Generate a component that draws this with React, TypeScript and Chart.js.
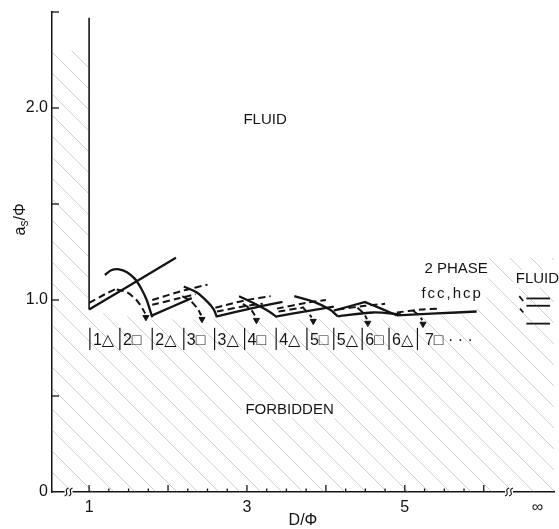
import React, { useEffect, useRef } from 'react';
import { Chart, registerables } from 'chart.js';

Chart.register(...registerables);

type P = [number, number];

// ---- axes ----
const X_MIN = 0.53;
const X_MAX = 6.89;
const Y_MIN = 0;
const Y_MAX = 2.5;
const X_TICKS = [1, 3, 5, 6.68];
const X_TICK_LABELS = ['1', '3', '5', '∞'];
const X_TICK_MARKS = [1, 1.25, 1.5, 1.75, 2, 2.25, 2.5, 2.75, 3, 3.25, 3.5, 3.75, 4, 4.25, 4.5, 4.75, 5, 5.25, 5.5, 5.75, 6];
const X_MAJOR_MARKS = [1, 2, 3, 4, 5, 6];
const X_BREAKS = [0.74, 6.32];
const Y_TICKS = [0, 1, 2];
const Y_TICK_LABELS = ['0', '1.0', '2.0'];
const Y_TICK_MARKS = [0.5, 1, 1.5, 2, 2.5];

// ---- curves (D/Φ, a_s/Φ) ----
const WALL: P[] = [[1.0, 0.95], [1.0, 2.47]];

const SOLID_LINES: P[][] = [
  [[1.0, 0.95], [2.1, 1.22]],
  [[1.2, 1.13], [1.28, 1.155], [1.38, 1.16], [1.48, 1.145], [1.58, 1.11], [1.66, 1.06], [1.73, 1.0], [1.77, 0.95], [1.8, 0.91]],
  [[1.8, 0.92], [2.3, 1.01]],
  [[2.2, 1.07], [2.36, 1.04], [2.5, 0.99], [2.58, 0.95], [2.62, 0.91]],
  [[2.62, 0.915], [3.1, 0.96], [3.45, 0.99]],
  [[2.9, 1.02], [3.1, 0.98], [3.28, 0.94], [3.38, 0.91]],
  [[3.38, 0.915], [3.8, 0.945], [4.1, 0.965]],
  [[3.6, 1.02], [3.85, 0.99], [4.05, 0.95], [4.15, 0.915]],
  [[4.1, 0.945], [4.5, 0.99]],
  [[4.49, 0.99], [4.7, 0.955], [4.9, 0.92]],
  [[4.15, 0.915], [4.6, 0.935], [4.95, 0.925]],
  [[4.9, 0.92], [5.4, 0.93], [5.91, 0.94]],
];

const DASHED_LINES: P[][] = [
  [[1.0, 0.985], [1.2, 1.03], [1.35, 1.06]],
  [[1.35, 1.055], [1.48, 1.04], [1.6, 1.0], [1.67, 0.96], [1.71, 0.93]],
  [[1.8, 1.0], [2.2, 1.05], [2.5, 1.08]],
  [[1.8, 0.975], [2.15, 1.01], [2.35, 1.03]],
  [[2.18, 1.02], [2.3, 0.99], [2.38, 0.95], [2.42, 0.92]],
  [[2.6, 0.96], [3.0, 1.0], [3.3, 1.02]],
  [[2.62, 0.94], [3.0, 0.97], [3.2, 0.98]],
  [[2.95, 0.98], [3.05, 0.95], [3.1, 0.92]],
  [[3.38, 0.955], [3.75, 0.985], [4.0, 1.0]],
  [[3.4, 0.94], [3.7, 0.96]],
  [[3.7, 0.965], [3.78, 0.93], [3.82, 0.91]],
  [[4.15, 0.95], [4.5, 0.97], [4.75, 0.98]],
  [[4.4, 0.96], [4.48, 0.93], [4.52, 0.9]],
  [[4.9, 0.935], [5.2, 0.95], [5.45, 0.955]],
  [[5.1, 0.945], [5.18, 0.92], [5.22, 0.895]],
];

const ARROW_TIPS: P[] = [[1.72, 0.91], [2.43, 0.9], [3.12, 0.895], [3.84, 0.89], [4.53, 0.88], [5.23, 0.875]];

const FLUID_BARS: P[][] = [
  [[6.54, 1.008], [6.84, 1.008]],
  [[6.54, 0.97], [6.84, 0.97]],
  [[6.54, 0.877], [6.84, 0.877]],
  [[6.45, 1.02], [6.5, 0.995]],
  [[6.46, 0.955], [6.5, 0.935]],
];

// forbidden (hatched) region outlines
const HATCH_LEFT: P[] = [[0.53, 2.3], [1.0, 2.3]];
const HATCH_ENVELOPE: P[] = [[1.0, 0.94], [1.8, 0.9], [2.62, 0.9], [3.38, 0.9], [4.15, 0.9], [4.9, 0.9], [5.9, 0.93], [6.0, 1.22], [6.89, 1.22]];

// structure labels row
const PHASE_SEPARATORS = [1.01, 1.39, 1.8, 2.2, 2.59, 2.97, 3.37, 3.76, 4.1, 4.46, 4.8, 5.16];
const PHASE_LABELS = ['1△', '2□', '2△', '3□', '3△', '4□', '4△', '5□', '5△', '6□', '6△', ' 7□ · · ·'];
const PHASE_ROW_Y = 0.795;

const NOTES = [
  { text: 'FLUID', x: 3.23, y: 1.94, bg: false, spacing: 0 },
  { text: '2 PHASE', x: 5.65, y: 1.16, bg: true, spacing: 0 },
  { text: 'fcc,hcp', x: 5.6, y: 1.03, bg: true, spacing: 2 },
  { text: 'FLUID', x: 6.68, y: 1.11, bg: true, spacing: 0 },
  { text: 'FORBIDDEN', x: 3.54, y: 0.43, bg: true, spacing: 0 },
];

const INK = '#141414';
const FONT = '"Liberation Sans", "DejaVu Sans", Arial, sans-serif';

const toXY = (pts: P[]) => pts.map(([x, y]) => ({ x, y }));

function makeHatch(): CanvasPattern | string {
  const c = document.createElement('canvas');
  const s = 21;
  c.width = s;
  c.height = s;
  const g = c.getContext('2d');
  if (!g) return 'rgba(0,0,0,0)';
  g.strokeStyle = 'rgba(120,120,120,0.45)';
  g.lineWidth = 0.8;
  g.beginPath();
  g.moveTo(-2, -2);
  g.lineTo(s + 2, s + 2);
  g.stroke();
  return g.createPattern(c, 'repeat') || 'rgba(0,0,0,0)';
}

const overlay = {
  id: 'overlay',
  afterDraw(chart: any) {
    const { ctx, chartArea, scales } = chart;
    const xs = scales.x;
    const ys = scales.y;
    const X = (v: number) => xs.getPixelForValue(v);
    const Y = (v: number) => ys.getPixelForValue(v);
    ctx.save();
    ctx.strokeStyle = INK;
    ctx.fillStyle = INK;
    ctx.lineWidth = 1.3;
    // inward tick marks
    X_TICK_MARKS.forEach((v) => {
      const len = X_MAJOR_MARKS.includes(v) ? 7 : 3.5;
      ctx.beginPath();
      ctx.moveTo(X(v), chartArea.bottom);
      ctx.lineTo(X(v), chartArea.bottom - len);
      ctx.stroke();
    });
    Y_TICK_MARKS.forEach((v) => {
      ctx.beginPath();
      ctx.moveTo(chartArea.left, Y(v));
      ctx.lineTo(chartArea.left + 7, Y(v));
      ctx.stroke();
    });
    // axis breaks
    X_BREAKS.forEach((v) => {
      const px = X(v);
      const py = chartArea.bottom;
      ctx.fillStyle = '#fff';
      ctx.fillRect(px - 4, py - 2, 8, 4);
      ctx.lineWidth = 1.1;
      [-2, 2].forEach((dx) => {
        ctx.beginPath();
        ctx.moveTo(px + dx - 2, py + 4);
        ctx.bezierCurveTo(px + dx + 4, py + 2, px + dx - 4, py - 2, px + dx + 2, py - 4);
        ctx.stroke();
      });
    });
    ctx.fillStyle = INK;
    // y-axis title a_s/Φ
    ctx.save();
    ctx.translate(21, Y(1.42));
    ctx.rotate(-Math.PI / 2);
    ctx.textBaseline = 'middle';
    ctx.textAlign = 'left';
    const big = `16px ${FONT}`;
    const small = `12px ${FONT}`;
    ctx.font = big;
    const wa = ctx.measureText('a').width;
    const wr = ctx.measureText('/Φ').width;
    ctx.font = small;
    const ws = ctx.measureText('s').width;
    let cx = -(wa + ws + wr) / 2;
    ctx.font = big;
    ctx.fillText('a', cx, 0);
    cx += wa;
    ctx.font = small;
    ctx.fillText('s', cx, 4);
    cx += ws;
    ctx.font = big;
    ctx.fillText('/Φ', cx, 0);
    ctx.restore();
    // notes
    ctx.textAlign = 'center';
    ctx.textBaseline = 'middle';
    NOTES.forEach((n) => {
      ctx.font = `15px ${FONT}`;
      (ctx as any).letterSpacing = `${n.spacing}px`;
      const w = ctx.measureText(n.text).width;
      if (n.bg) {
        ctx.fillStyle = '#fff';
        ctx.fillRect(X(n.x) - w / 2 - 3, Y(n.y) - 9, w + 6, 18);
      }
      ctx.fillStyle = INK;
      ctx.fillText(n.text, X(n.x), Y(n.y));
    });
    (ctx as any).letterSpacing = '0px';
    // phase label row
    ctx.font = `16px ${FONT}`;
    ctx.textAlign = 'left';
    ctx.lineWidth = 1.2;
    PHASE_SEPARATORS.forEach((s, i) => {
      const px = X(s);
      ctx.beginPath();
      ctx.moveTo(px, Y(PHASE_ROW_Y + 0.06));
      ctx.lineTo(px, Y(PHASE_ROW_Y - 0.055));
      ctx.stroke();
      ctx.fillText(PHASE_LABELS[i], px + 3, Y(PHASE_ROW_Y) + 1);
    });
    ctx.restore();
  },
};

export default function App() {
  const ref = useRef<HTMLCanvasElement | null>(null);
  useEffect(() => {
    if (!ref.current) return;
    const hatch = makeHatch();
    const lineDs = (pts: P[], extra: any = {}) => ({
      data: toXY(pts),
      borderColor: INK,
      borderWidth: 2.3,
      pointRadius: 0,
      tension: 0.3,
      fill: false,
      ...extra,
    });
    const datasets: any[] = [
      { data: toXY(HATCH_LEFT), fill: 'origin', backgroundColor: hatch, borderWidth: 0, pointRadius: 0 },
      { data: toXY(HATCH_ENVELOPE), fill: 'origin', backgroundColor: hatch, borderWidth: 0, pointRadius: 0 },
      lineDs(WALL, { borderWidth: 1.6, tension: 0 }),
      ...SOLID_LINES.map((l) => lineDs(l)),
      ...DASHED_LINES.map((l) => lineDs(l, { borderDash: [7, 4], borderWidth: 2 })),
      ...FLUID_BARS.map((l) => lineDs(l, { borderWidth: 1.8, tension: 0 })),
      {
        data: toXY(ARROW_TIPS),
        showLine: false,
        pointStyle: 'triangle',
        rotation: 180,
        pointRadius: 3.5,
        backgroundColor: INK,
        borderColor: INK,
        borderWidth: 1,
      },
    ];
    const chart = new Chart(ref.current, {
      type: 'line',
      data: { datasets },
      options: {
        responsive: false,
        animation: false,
        devicePixelRatio: 1,
        layout: { padding: { top: 12, right: 5, left: 0, bottom: 0 } },
        plugins: { legend: { display: false }, tooltip: { enabled: false }, title: { display: false } },
        scales: {
          x: {
            type: 'linear',
            min: X_MIN,
            max: X_MAX,
            z: 1,
            grid: { display: false, drawTicks: false },
            border: { display: true, color: INK, width: 1.5 },
            afterBuildTicks: (s: any) => {
              s.ticks = X_TICKS.map((v) => ({ value: v }));
            },
            afterFit: (s: any) => {
              s.height = 37;
              s.paddingLeft = 0;
              s.paddingRight = 0;
            },
            ticks: {
              autoSkip: false,
              maxRotation: 0,
              padding: 6,
              color: INK,
              font: { family: FONT, size: 16 },
              callback: (_v: any, i: number) => X_TICK_LABELS[i],
            },
            title: {
              display: true,
              text: 'D/Φ',
              color: INK,
              font: { family: FONT, size: 16, lineHeight: 1 },
              padding: { top: 0, bottom: 0 },
            },
          },
          y: {
            type: 'linear',
            min: Y_MIN,
            max: Y_MAX,
            z: 1,
            grid: { display: false, drawTicks: false },
            border: { display: true, color: INK, width: 1.5 },
            afterBuildTicks: (s: any) => {
              s.ticks = Y_TICKS.map((v) => ({ value: v }));
            },
            afterFit: (s: any) => {
              s.width = 52;
              s.paddingTop = 0;
              s.paddingBottom = 0;
            },
            ticks: {
              autoSkip: false,
              padding: 4,
              color: INK,
              font: { family: FONT, size: 16 },
              callback: (_v: any, i: number) => Y_TICK_LABELS[i],
            },
          },
        },
      },
      plugins: [overlay],
    });
    return () => chart.destroy();
  }, []);
  return (
    <div style={{ position: 'absolute', left: 0, top: 0, width: 559, height: 529, background: '#fff' }}>
      <canvas ref={ref} width={559} height={529} style={{ display: 'block' }} />
    </div>
  );
}
